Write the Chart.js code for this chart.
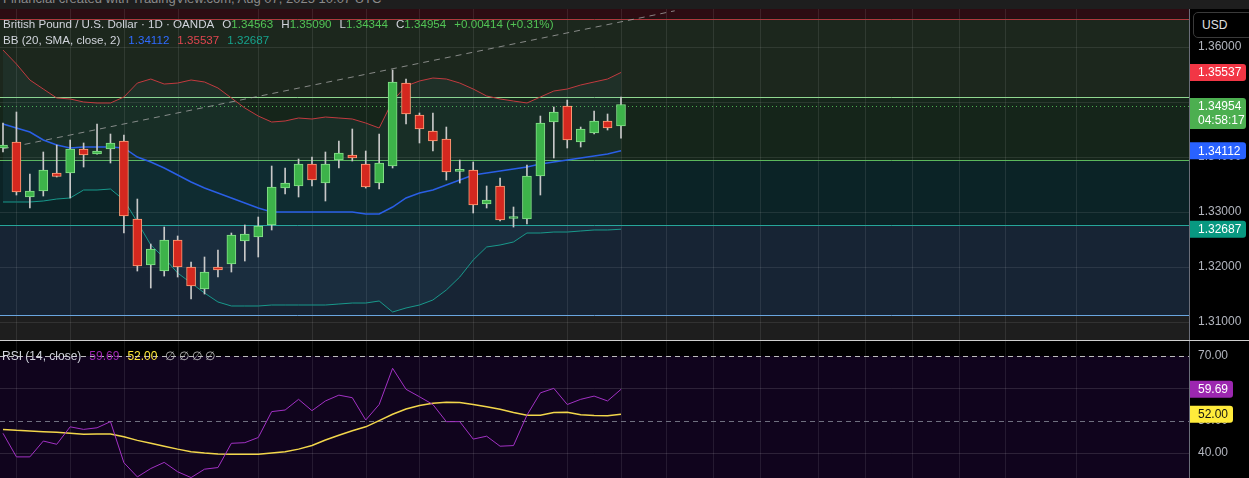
<!DOCTYPE html>
<html>
<head>
<meta charset="utf-8">
<script src="https://cdn.jsdelivr.net/npm/chart.js@4.4.1/dist/chart.umd.min.js"></script>
<style>
  html, body { margin: 0; padding: 0; background: #000; width: 1249px; height: 478px; overflow: hidden; font-family: "Liberation Sans", Arial, sans-serif; }
  #topbar { position: absolute; left: 0; top: 0; width: 1249px; height: 9px; background: #1e1e1e; overflow: hidden; }
  #topbar span { position: absolute; left: 3px; top: -9px; font-size: 13px; color: #8a8a8a; white-space: nowrap; }
  #mainChart { position: absolute; left: 0; top: 9px; }
  #sep { position: absolute; left: 0; top: 340px; width: 1249px; height: 1px; background: #cfcfcf; }
  #rsiChart { position: absolute; left: 0; top: 341px; }
  .legend { position: absolute; left: 3px; font-size: 11.6px; line-height: 16px; color: #d1d4dc; white-space: pre; }
  .legend span { margin-left: 8px; }
  .g { color: #52c455; font-weight: normal; }
  #usd { position: absolute; left: 1193px; top: 12px; width: 60px; height: 26px; box-sizing: border-box; border: 1px solid #3a3a3a; border-radius: 5px; color: #e0e0e0; font-size: 12px; line-height: 24px; padding-left: 8px; background: #000; }
</style>
</head>
<body>
<div id="topbar"><span>Financial created with TradingView.com, Aug 07, 2025 10:07 UTC</span></div>
<canvas id="mainChart" width="1249" height="331"></canvas>
<div id="sep"></div>
<canvas id="rsiChart" width="1249" height="137"></canvas>
<div id="usd">USD</div>
<div class="legend" style="top:16px">British Pound / U.S. Dollar · 1D · OANDA<span>O<b class="g">1.34563</b></span><span>H<b class="g">1.35090</b></span><span>L<b class="g">1.34344</b></span><span>C<b class="g">1.34954</b></span><span class="g">+0.00414 (+0.31%)</span></div>
<div class="legend" style="top:32px">BB (20, SMA, close, 2)<span style="color:#2f6bff">1.34112</span><span style="color:#e0454f">1.35537</span><span style="color:#16a28c">1.32687</span></div>
<div class="legend" style="top:348px; left:2px; font-size:12px">RSI (14, close)<span style="color:#9c27b0">59.69</span><span style="color:#ffe83b">52.00</span><span style="color:#b8b8b8">∅ ∅ ∅ ∅</span></div>
<script>
// Velas diarias GBP/USD (OANDA)
const opens  = [1.34164, 1.34273, 1.33273, 1.33382, 1.33709, 1.33709, 1.34145, 1.34055, 1.34145, 1.34291,
                1.32873, 1.32036, 1.31927, 1.32491, 1.32000, 1.31600, 1.32000, 1.32055, 1.32473, 1.32545,
                1.32764, 1.33436, 1.33473, 1.33873, 1.33527, 1.33945, 1.34036, 1.33873, 1.33527, 1.33836,
                1.35345, 1.34764, 1.34473, 1.34327, 1.33738, 1.33764, 1.33145, 1.33473, 1.32882, 1.32873,
                1.33655, 1.34636, 1.34927, 1.34273, 1.34436, 1.34655, 1.34563];
const highs  = [1.34618, 1.34818, 1.33691, 1.34091, 1.34218, 1.34309, 1.34255, 1.34600, 1.34418, 1.34400,
                1.33236, 1.32418, 1.32727, 1.32564, 1.32091, 1.32182, 1.32309, 1.32618, 1.32764, 1.32909,
                1.33836, 1.33800, 1.33964, 1.34000, 1.34091, 1.34291, 1.34509, 1.34109, 1.34418, 1.35582,
                1.35418, 1.34800, 1.34800, 1.34545, 1.33945, 1.33909, 1.33473, 1.33618, 1.33091, 1.33855,
                1.34745, 1.34909, 1.35036, 1.34545, 1.34836, 1.34782, 1.35090];
const lows   = [1.34091, 1.33309, 1.33073, 1.33291, 1.33636, 1.33255, 1.33818, 1.34050, 1.33891, 1.32618,
                1.31927, 1.31618, 1.31836, 1.31818, 1.31418, 1.31509, 1.31818, 1.31909, 1.32109, 1.32182,
                1.32673, 1.33327, 1.33273, 1.33473, 1.33200, 1.33800, 1.33927, 1.33436, 1.33418, 1.33800,
                1.34600, 1.34255, 1.34109, 1.33582, 1.33527, 1.32982, 1.33073, 1.32836, 1.32727, 1.32782,
                1.33309, 1.33982, 1.34164, 1.34182, 1.34418, 1.34491, 1.34344];
const closes = [1.34218, 1.33364, 1.33382, 1.33764, 1.33645, 1.34145, 1.34036, 1.34109, 1.34255, 1.32927,
                1.32018, 1.32327, 1.32491, 1.32000, 1.31655, 1.31909, 1.31945, 1.32582, 1.32600, 1.32745,
                1.33455, 1.33527, 1.33873, 1.33582, 1.33873, 1.34073, 1.33982, 1.33455, 1.33891, 1.35364,
                1.34782, 1.34509, 1.34291, 1.33727, 1.33745, 1.33127, 1.33218, 1.32855, 1.32891, 1.33655,
                1.34618, 1.34818, 1.34309, 1.34509, 1.34655, 1.34527, 1.34954];

// Bandas de Bollinger (20, SMA, close, 2)
const bbUpper = [1.35945, 1.35691, 1.35400, 1.35236, 1.35073, 1.35055, 1.35000, 1.34982, 1.34982, 1.35091,
                 1.35345, 1.35418, 1.35327, 1.35345, 1.35400, 1.35364, 1.35255, 1.35073, 1.34891, 1.34745,
                 1.34636, 1.34655, 1.34709, 1.34691, 1.34727, 1.34709, 1.34691, 1.34618, 1.34527, 1.35018,
                 1.35291, 1.35382, 1.35436, 1.35418, 1.35345, 1.35236, 1.35109, 1.35055, 1.35018, 1.34982,
                 1.35091, 1.35200, 1.35236, 1.35309, 1.35364, 1.35418, 1.35537];
const bbBasis = [1.34600, 1.34527, 1.34455, 1.34309, 1.34218, 1.34164, 1.34182, 1.34182, 1.34182, 1.34164,
                 1.34000, 1.33909, 1.33800, 1.33673, 1.33545, 1.33436, 1.33345, 1.33255, 1.33164, 1.33073,
                 1.33000, 1.33000, 1.33000, 1.33000, 1.33000, 1.33000, 1.33000, 1.32964, 1.32964, 1.33091,
                 1.33255, 1.33345, 1.33400, 1.33491, 1.33582, 1.33673, 1.33709, 1.33745, 1.33782, 1.33818,
                 1.33873, 1.33909, 1.33945, 1.33982, 1.34018, 1.34055, 1.34112];
const bbLower = [1.33182, 1.33182, 1.33182, 1.33200, 1.33236, 1.33255, 1.33400, 1.33400, 1.33418, 1.33218,
                 1.32818, 1.32400, 1.32164, 1.31891, 1.31709, 1.31527, 1.31364, 1.31291, 1.31291, 1.31291,
                 1.31309, 1.31309, 1.31309, 1.31309, 1.31309, 1.31327, 1.31345, 1.31345, 1.31382, 1.31182,
                 1.31255, 1.31309, 1.31400, 1.31582, 1.31818, 1.32127, 1.32364, 1.32400, 1.32455, 1.32618,
                 1.32618, 1.32636, 1.32636, 1.32655, 1.32673, 1.32673, 1.32687];

// RSI (14, close) y su media
const rsiValues = [46.1, 38.8, 38.8, 43.7, 42.7, 48.1, 47.3, 47.8, 49.7, 37.0,
                   32.6, 35.2, 37.1, 34.2, 32.4, 35.0, 35.5, 43.0, 43.2, 44.8,
                   52.8, 53.3, 56.6, 53.1, 56.1, 57.9, 57.1, 50.2, 55.0, 66.2,
                   59.7, 57.4, 55.0, 49.7, 49.7, 44.3, 45.2, 42.1, 42.3, 51.7,
                   58.6, 60.0, 55.0, 56.6, 57.6, 56.1, 59.69];
const rsiMA = [47.3, 47.0, 46.8, 46.6, 46.4, 46.1, 45.8, 45.9, 45.9, 45.0,
               43.9, 43.0, 42.1, 41.2, 40.4, 40.0, 39.7, 39.6, 39.6, 39.6,
               40.0, 40.4, 41.2, 42.3, 44.0, 45.5, 46.9, 48.1, 50.0, 52.0,
               53.6, 54.7, 55.4, 55.7, 55.6, 55.0, 54.3, 53.5, 52.5, 51.7,
               51.7, 52.5, 52.6, 51.8, 51.6, 51.5, 52.0];

// Rejilla vertical (en número de vela) y marcas de los ejes
const gridX = [1, 5, 9, 13, 19, 23, 27, 31, 35, 42, 46, 49.35, 52.85, 56.35, 60.66, 64.16, 67.66, 71.16, 74.58, 79.87];
const priceTicks = [1.31, 1.32, 1.33, 1.34, 1.35, 1.36];
const rsiTicks = [40, 50, 60, 70];
// etiquetas que quedan tapadas por las de último valor
const hiddenTicks = [1.35, 60];

// Zonas dibujadas a mano en el gráfico (bordes en precio) y línea de tendencia
const zonePrices = [1.36518, 1.35090, 1.33945, 1.32764, 1.31127];
const trendX = [0, 50];
const trendY = [1.34149, 1.36658];

// estilos
const zoneFills = ['#2c0c12', '#1c271d', '#15251a', '#0b2326', '#172434', '#1e1e1e'];
const zoneLines = ['#b0383e', '#90d890', '#5cb85c', '#26a69a', '#6aa6e0'];
const gridColor = 'rgba(255,255,255,0.09)';
const xMin = -0.2233, xMax = 88.28;

const isUp = closes.map((c, i) => c >= opens[i]);
const pts = (arr) => arr.map((v, i) => ({ x: i, y: v }));

function badge(ctx, x, yc, w, lines, bg, fg, topOff) {
    const h = lines.length > 1 ? 31 : 17;
    const top = topOff !== undefined ? yc - topOff : yc - h / 2;
    ctx.fillStyle = bg;
    ctx.beginPath();
    ctx.roundRect(x, top, w, h, [0, 3, 3, 0]);
    ctx.fill();
    ctx.fillStyle = fg;
    ctx.font = '12px "Liberation Sans", Arial, sans-serif';
    ctx.textBaseline = 'middle';
    ctx.textAlign = 'left';
    lines.forEach((t, i) => ctx.fillText(t, x + 8, top + 9 + i * 14));
}

function hline(ctx, a, py, color, dash) {
    ctx.strokeStyle = color;
    ctx.setLineDash(dash || []);
    ctx.beginPath();
    ctx.moveTo(a.left, Math.round(py) + 0.5);
    ctx.lineTo(a.right, Math.round(py) + 0.5);
    ctx.stroke();
    ctx.setLineDash([]);
}

function vgrid(ctx, a, x) {
    ctx.strokeStyle = gridColor;
    ctx.lineWidth = 1;
    gridX.forEach(v => {
        const px = Math.round(x.getPixelForValue(v)) + 0.5;
        ctx.beginPath();
        ctx.moveTo(px, a.top);
        ctx.lineTo(px, a.bottom);
        ctx.stroke();
    });
}

// Fondo, zonas, rejilla y etiquetas del panel de precio
const panelPrecio = {
    id: 'panelPrecio',
    beforeDraw(chart) {
        const { ctx, chartArea: a, scales: { x, y } } = chart;
        ctx.save();
        ctx.fillStyle = '#000';
        ctx.fillRect(0, 0, chart.width, chart.height);
        let top = a.top;
        zonePrices.forEach((p, i) => {
            const py = y.getPixelForValue(p);
            ctx.fillStyle = zoneFills[i];
            ctx.fillRect(a.left, top, a.width, py - top);
            top = py;
        });
        ctx.fillStyle = zoneFills[zoneFills.length - 1];
        ctx.fillRect(a.left, top, a.width, a.bottom - top);
        vgrid(ctx, a, x);
        ctx.lineWidth = 1;
        priceTicks.forEach(p => hline(ctx, a, y.getPixelForValue(p), gridColor));
        ctx.restore();
    },
    beforeDatasetsDraw(chart) {
        const { ctx, chartArea: a, scales: { y } } = chart;
        ctx.save();
        ctx.lineWidth = 1;
        zonePrices.forEach((p, i) => hline(ctx, a, y.getPixelForValue(p), zoneLines[i]));
        hline(ctx, a, y.getPixelForValue(closes[closes.length - 1]) + 1.5, '#4caf50', [1, 3]);
        ctx.restore();
    },
    afterDraw(chart) {
        const { ctx, chartArea: a, scales: { y } } = chart;
        ctx.save();
        ctx.fillStyle = '#b2b5be';
        ctx.font = '12px "Liberation Sans", Arial, sans-serif';
        ctx.textBaseline = 'middle';
        priceTicks.filter(p => !hiddenTicks.includes(p))
            .forEach(p => ctx.fillText(p.toFixed(5), a.right + 9, y.getPixelForValue(p)));
        const last = closes.length - 1;
        badge(ctx, a.right + 1, y.getPixelForValue(bbUpper[last]), 56, [bbUpper[last].toFixed(5)], '#f23645', '#fff');
        badge(ctx, a.right + 1, y.getPixelForValue(closes[last]), 56, [closes[last].toFixed(5), '04:58:17'], '#4caf50', '#fff', 6.5);
        badge(ctx, a.right + 1, y.getPixelForValue(bbBasis[last]), 56, [bbBasis[last].toFixed(5)], '#2962ff', '#fff');
        badge(ctx, a.right + 1, y.getPixelForValue(bbLower[last]), 56, [bbLower[last].toFixed(5)], '#089981', '#fff');
        ctx.fillStyle = '#6a6d78';
        ctx.fillRect(Math.round(a.right), 0, 1, chart.height);
        ctx.restore();
    }
};

new Chart(document.getElementById('mainChart'), {
    type: 'bar',
    data: {
        datasets: [
            {
                label: 'cuerpos',
                data: opens.map((o, i) => ({ x: i, y: [o, closes[i]] })),
                backgroundColor: isUp.map(u => u ? '#3db34a' : '#d4281f'),
                borderColor: isUp.map(u => u ? '#86e08a' : '#ffa07a'),
                borderWidth: 1,
                borderSkipped: false,
                barThickness: 9,
                minBarLength: 2,
                grouped: false,
                order: 1
            },
            {
                label: 'mechas',
                data: lows.map((l, i) => ({ x: i, y: [l, highs[i]] })),
                backgroundColor: '#c8c8c8',
                barThickness: 1,
                grouped: false,
                order: 2
            },
            {
                type: 'line', label: 'BB superior', data: pts(bbUpper),
                borderColor: '#c23a3f', borderWidth: 1, pointRadius: 0,
                fill: '+2', backgroundColor: 'rgba(70,170,200,0.07)', order: 5
            },
            {
                type: 'line', label: 'BB base', data: pts(bbBasis),
                borderColor: '#2a5fe6', borderWidth: 1.5, pointRadius: 0, fill: false, order: 4
            },
            {
                type: 'line', label: 'BB inferior', data: pts(bbLower),
                borderColor: '#17998a', borderWidth: 1, pointRadius: 0, fill: false, order: 5
            },
            {
                type: 'line', label: 'tendencia', data: trendX.map((v, i) => ({ x: v, y: trendY[i] })),
                borderColor: 'rgba(170,170,170,0.75)', borderWidth: 1, borderDash: [6, 5],
                pointRadius: 0, fill: false, order: 3
            }
        ]
    },
    options: {
        responsive: false,
        animation: false,
        events: [],
        layout: { padding: { right: 60 } },
        plugins: { legend: { display: false }, tooltip: { enabled: false } },
        scales: {
            x: { type: 'linear', min: xMin, max: xMax, offset: false, display: false },
            y: { min: 1.30673, max: 1.36691, display: false }
        }
    },
    plugins: [panelPrecio]
});

// Panel RSI
const panelRSI = {
    id: 'panelRSI',
    beforeDraw(chart) {
        const { ctx, chartArea: a, scales: { x, y } } = chart;
        ctx.save();
        ctx.fillStyle = '#000';
        ctx.fillRect(0, 0, chart.width, chart.height);
        const y70 = y.getPixelForValue(70);
        ctx.fillStyle = '#10041d';
        ctx.fillRect(a.left, y70, a.width, a.bottom - y70);
        vgrid(ctx, a, x);
        ctx.lineWidth = 1;
        hline(ctx, a, y.getPixelForValue(60), 'rgba(255,255,255,0.12)');
        hline(ctx, a, y.getPixelForValue(40), 'rgba(255,255,255,0.12)');
        hline(ctx, a, y70, '#bdbdbd', [5, 4]);
        hline(ctx, a, y.getPixelForValue(50), '#707080', [5, 4]);
        ctx.restore();
    },
    afterDraw(chart) {
        const { ctx, chartArea: a, scales: { y } } = chart;
        ctx.save();
        ctx.fillStyle = '#b2b5be';
        ctx.font = '12px "Liberation Sans", Arial, sans-serif';
        ctx.textBaseline = 'middle';
        rsiTicks.filter(v => !hiddenTicks.includes(v))
            .forEach(v => ctx.fillText(v.toFixed(2), a.right + 9, y.getPixelForValue(v)));
        const last = rsiValues.length - 1;
        badge(ctx, a.right + 1, y.getPixelForValue(rsiValues[last]), 43, [rsiValues[last].toFixed(2)], '#9c27b0', '#fff');
        badge(ctx, a.right + 1, y.getPixelForValue(rsiMA[last]), 43, [rsiMA[last].toFixed(2)], '#ffeb3b', '#131313');
        ctx.fillStyle = '#6a6d78';
        ctx.fillRect(Math.round(a.right), 0, 1, chart.height);
        ctx.restore();
    }
};

new Chart(document.getElementById('rsiChart'), {
    type: 'line',
    data: {
        datasets: [
            { label: 'RSI', data: pts(rsiValues), borderColor: '#a231c4', borderWidth: 1, pointRadius: 0, fill: false },
            { label: 'RSI MA', data: pts(rsiMA), borderColor: '#f2d64b', borderWidth: 1.5, pointRadius: 0, fill: false }
        ]
    },
    options: {
        responsive: false,
        animation: false,
        events: [],
        layout: { padding: { right: 60 } },
        plugins: { legend: { display: false }, tooltip: { enabled: false } },
        scales: {
            x: { type: 'linear', min: xMin, max: xMax, display: false },
            y: { min: 32.27, max: 74.64, display: false }
        }
    },
    plugins: [panelRSI]
});
</script>
</body>
</html>
